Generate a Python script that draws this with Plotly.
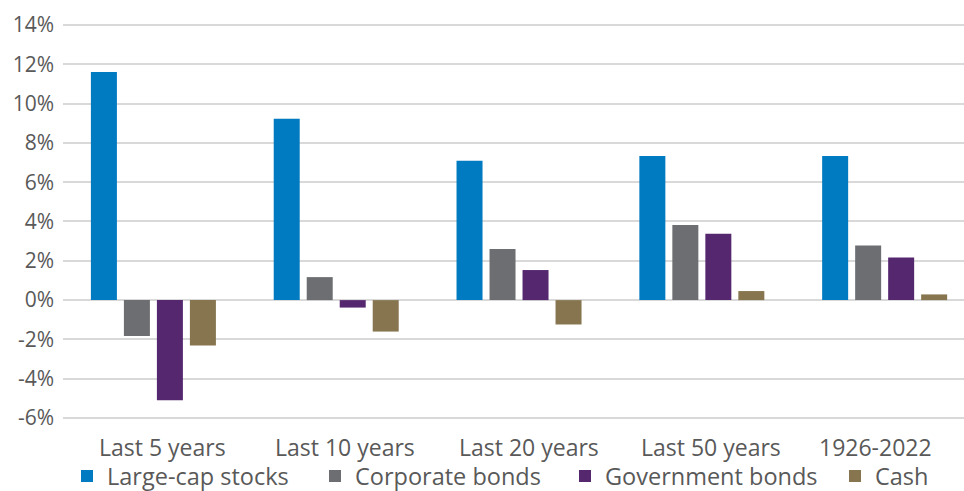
import plotly.graph_objects as go

categories = ["Last 5 years", "Last 10 years", "Last 20 years", "Last 50 years", "1926-2022"]
large_cap = [11.6, 9.22, 7.09, 7.33, 7.33]
corporate = [-1.83, 1.17, 2.6, 3.82, 2.78]
government = [-5.09, -0.38, 1.53, 3.38, 2.17]
cash = [-2.31, -1.6, -1.24, 0.46, 0.29]
y_ticks = [-6, -4, -2, 0, 2, 4, 6, 8, 10, 12, 14]

series = [
    ("Large-cap stocks", large_cap, "#007AC0", 203),
    ("Corporate bonds", corporate, "#6D6E71", 205),
    ("Government bonds", government, "#55276F", 225),
    ("Cash", cash, "#86754E", 60),
]

# horizontal pixel offsets of the category labels relative to group centres
label_shifts = [9, 9, 10, 9, -9]

fig = go.Figure()
for name, vals, color, lw in series:
    fig.add_trace(go.Bar(
        x=categories, y=vals, name=name,
        marker=dict(color=color, line=dict(width=0)),
        legendwidth=lw,
    ))

font_color = "#595959"

for cat, sh in zip(categories, label_shifts):
    fig.add_annotation(
        x=cat, xref="x", y=0, yref="paper",
        yanchor="top", xanchor="center", yshift=-8, xshift=sh,
        text=cat, showarrow=False,
        font=dict(size=23, color=font_color, family="Open Sans"),
    )

fig.update_layout(
    width=964, height=491,
    margin=dict(l=63, r=0, t=20, b=70, autoexpand=False),
    paper_bgcolor="white", plot_bgcolor="white",
    barmode="group", bargap=0.278, bargroupgap=0.212,
    font=dict(family="Open Sans", color=font_color),
    showlegend=True,
    legend=dict(
        orientation="h", x=0.0695, xanchor="left", xref="container",
        y=0.03, yanchor="middle", yref="container",
        font=dict(size=23.5, color=font_color),
        itemclick=False, tracegroupgap=0,
        bgcolor="rgba(0,0,0,0)",
    ),
    xaxis=dict(
        type="category", range=[-0.4945, 4.434],
        showgrid=False, zeroline=False, showline=False,
        ticks="", showticklabels=False,
    ),
    yaxis=dict(
        range=[-6.15, 14.25], tickvals=y_ticks,
        ticktext=[f"{v}%" for v in y_ticks],
        showgrid=True, gridcolor="#d9d9d9", gridwidth=1.5,
        zeroline=True, zerolinecolor="#d9d9d9", zerolinewidth=1.5,
        showline=False, ticks="", ticklabelstandoff=8,
        tickfont=dict(size=21, color=font_color),
    ),
)

fig.write_html("out.html")
